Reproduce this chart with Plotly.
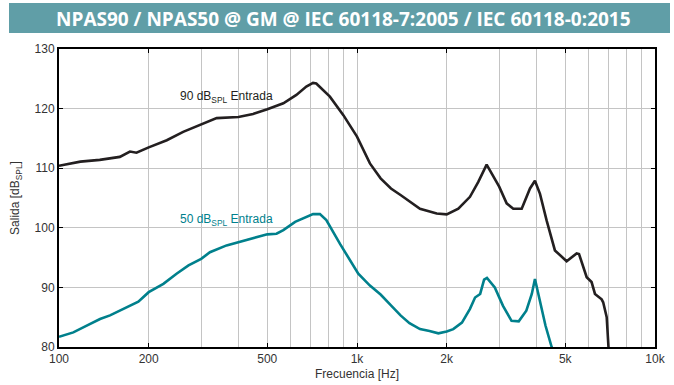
import plotly.graph_objects as go

# ---- data ----
freq_90 = [100, 118, 137, 160, 173, 182, 200, 230, 261, 300, 338, 400, 448, 500, 566, 626,
           676, 712, 730, 811, 900, 1000, 1105, 1200, 1300, 1400, 1500, 1627, 1851, 2000,
           2188, 2394, 2553, 2723, 3000, 3178, 3345, 3570, 3807, 3955, 4112, 4330, 4615,
           5052, 5458, 5560, 5899, 6126, 6289, 6621, 6700, 6885, 7000, 7100]
level_90 = [110.4, 111.1, 111.4, 111.9, 112.8, 112.6, 113.5, 114.7, 116.1, 117.4, 118.4,
            118.6, 119.1, 119.9, 120.9, 122.3, 123.7, 124.3, 124.2, 122.0, 118.9, 115.3,
            110.8, 108.3, 106.6, 105.5, 104.5, 103.2, 102.4, 102.25, 103.2, 105.2, 107.7,
            110.6, 106.9, 104.1, 103.2, 103.2, 106.6, 107.9, 105.7, 101.2, 96.2, 94.4, 95.7,
            95.6, 91.7, 90.9, 88.9, 88.0, 87.5, 85.0, 79.0, 74.0]

freq_50 = [100, 111.7, 123.9, 137.3, 148.3, 164.4, 184.6, 200, 224, 248, 272, 300, 321, 365,
           400, 448, 500, 537, 566, 620, 676, 712, 751, 789, 877, 947, 1010, 1105, 1200, 1300,
           1400, 1500, 1627, 1751, 1875, 2000, 2104, 2250, 2394, 2490, 2590, 2670, 2730, 2900,
           3090, 3300, 3490, 3700, 3860, 3955, 4090, 4290, 4500, 4700]
level_50 = [81.7, 82.45, 83.6, 84.7, 85.3, 86.4, 87.6, 89.2, 90.6, 92.3, 93.7, 94.8, 95.9,
            97.05, 97.6, 98.2, 98.9, 99.0, 99.6, 101.0, 101.8, 102.3, 102.3, 101.3, 97.3,
            94.5, 92.3, 90.3, 88.8, 87.0, 85.3, 84.0, 83.0, 82.7, 82.3, 82.6, 83.0, 84.1,
            86.4, 88.3, 88.9, 91.3, 91.6, 90.0, 86.9, 84.4, 84.3, 86.1, 88.9, 91.4, 88.3,
            83.6, 80.0, 77.0]

x_tickvals = [100, 200, 500, 1000, 2000, 5000, 10000]
x_ticktext = ["100", "200", "500", "1k", "2k", "5k", "10k"]
x_gridvals = [m * d for d in (100, 1000) for m in range(1, 10)] + [10000]

title_text = "NPAS90 / NPAS50 @ GM @ IEC 60118-7:2005 / IEC 60118-0:2015"
label_90 = "90 dB<sub>SPL</sub> Entrada"
label_50 = "50 dB<sub>SPL</sub> Entrada"

BLACK = "#231f20"
TEAL = "#00808c"
BAR = "#609ea7"
FONT = "Liberation Sans, Arial, sans-serif"

fig = go.Figure()
fig.add_trace(go.Scatter(x=freq_90, y=level_90, mode="lines",
                         line=dict(color=BLACK, width=2.6), showlegend=False))
fig.add_trace(go.Scatter(x=freq_50, y=level_50, mode="lines",
                         line=dict(color=TEAL, width=2.6), showlegend=False))

W, H = 674, 385
L, R, T, B = 59, 19, 49, 38
pw, ph = W - L - R, H - T - B

def px(xp):
    return (xp - L) / pw

def py(yp):
    return (H - B - yp) / ph

tickfont = dict(family=FONT, size=12, color="#333333")

fig.update_layout(
    width=W, height=H,
    margin=dict(l=L, r=R, t=T, b=B, autoexpand=False),
    paper_bgcolor="white", plot_bgcolor="white",
    xaxis=dict(
        type="log", range=[2, 4], automargin=False,
        tickvals=x_tickvals, ticktext=x_ticktext,
        showgrid=True, gridcolor="#c4c4c4", gridwidth=1,
        minor=dict(tickvals=x_gridvals, showgrid=True, gridcolor="#c4c4c4", gridwidth=1, ticks=""),
        ticks="inside", ticklen=4, tickcolor="black", tickwidth=1.2,
        showline=True, linecolor="black", linewidth=2, mirror="allticks",
        tickfont=tickfont,
        title=dict(text="Frecuencia [Hz]", font=dict(family=FONT, size=12, color="#333333"), standoff=4),
        zeroline=False,
    ),
    yaxis=dict(
        range=[80, 130], dtick=10, tick0=80, automargin=False,
        showgrid=True, gridcolor="#c4c4c4", gridwidth=1,
        ticks="inside", ticklen=4, tickcolor="black", tickwidth=1.2,
        showline=True, linecolor="black", linewidth=2, mirror="allticks",
        tickfont=tickfont,
        title=dict(text="Salida [dB<sub>SPL</sub>]", font=dict(family=FONT, size=12, color="#333333"), standoff=12),
        zeroline=False,
    ),
    shapes=[dict(type="rect", xref="paper", yref="paper",
                 x0=px(9), x1=px(670), y0=py(33), y1=py(3),
                 fillcolor=BAR, line=dict(width=0), layer="below")],
    annotations=[
        dict(text=title_text, xref="paper", yref="paper", x=px(343), y=py(18.5),
             xanchor="center", yanchor="middle", showarrow=False,
             font=dict(family="Open Sans, sans-serif", size=19, color="white", weight="bold")),
        dict(text=label_90, x=2.399, y=122.0, xref="x", yref="y", xanchor="left", yanchor="middle",
             showarrow=False, font=dict(family=FONT, size=12, color=BLACK)),
        dict(text=label_50, x=2.399, y=101.3, xref="x", yref="y", xanchor="left", yanchor="middle",
             showarrow=False, font=dict(family=FONT, size=12, color=TEAL)),
    ],
)

fig.write_html("out.html")
